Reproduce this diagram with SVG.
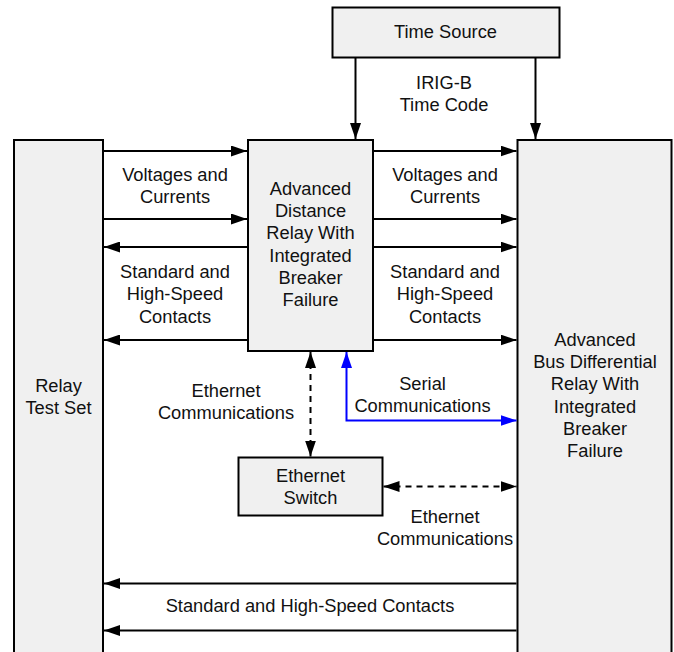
<svg xmlns="http://www.w3.org/2000/svg" width="674" height="652" viewBox="0 0 674 652">
<style>
  .box { fill: #f0f0f0; stroke: #000; stroke-width: 2; }
  .t { font-family: "Liberation Sans", Arial, sans-serif; font-size: 18.3px; fill: #111; text-anchor: middle; }
  .ln { fill: none; stroke: #000; stroke-width: 2; }
  .dash { fill: none; stroke: #000; stroke-width: 2; stroke-dasharray: 6 5; }
  .blue { fill: none; stroke: #0000ff; stroke-width: 2; }
</style>
<defs>
  <marker id="ah" markerUnits="userSpaceOnUse" markerWidth="16" markerHeight="11" refX="16" refY="5.5" orient="auto-start-reverse">
    <path d="M0,0 L16,5.5 L0,11 z" fill="#000"/>
  </marker>
  <marker id="ahb" markerUnits="userSpaceOnUse" markerWidth="16" markerHeight="11" refX="16" refY="5.5" orient="auto-start-reverse">
    <path d="M0,0 L16,5.5 L0,11 z" fill="#0000ff"/>
  </marker>
</defs>

<g id="time-source">
  <rect class="box" x="332.5" y="7.5" width="227" height="50"/>
  <text class="t" x="445.5" y="37.5">Time Source</text>
</g>

<g id="relay-test-set">
  <rect class="box" x="14" y="140" width="89" height="600"/>
  <text class="t" x="58.5" y="391.5">Relay</text>
  <text class="t" x="58.5" y="413.5">Test Set</text>
</g>

<g id="distance-relay">
  <rect class="box" x="248" y="140" width="125" height="211"/>
  <text class="t" x="310.5" y="195">Advanced</text>
  <text class="t" x="310.5" y="217.2">Distance</text>
  <text class="t" x="310.5" y="239.4">Relay With</text>
  <text class="t" x="310.5" y="261.6">Integrated</text>
  <text class="t" x="310.5" y="283.8">Breaker</text>
  <text class="t" x="310.5" y="306">Failure</text>
</g>

<g id="bus-differential-relay">
  <rect class="box" x="517.5" y="140" width="154" height="600"/>
  <text class="t" x="595" y="345.7">Advanced</text>
  <text class="t" x="595" y="368">Bus Differential</text>
  <text class="t" x="595" y="390.3">Relay With</text>
  <text class="t" x="595" y="412.6">Integrated</text>
  <text class="t" x="595" y="434.9">Breaker</text>
  <text class="t" x="595" y="457.2">Failure</text>
</g>

<g id="ethernet-switch">
  <rect class="box" x="238.5" y="457.5" width="144" height="58"/>
  <text class="t" x="310.5" y="481.7">Ethernet</text>
  <text class="t" x="310.5" y="503.5">Switch</text>
</g>

<g id="connectors">
  <line class="ln" x1="355.5" y1="58" x2="355.5" y2="139" marker-end="url(#ah)"/>
  <line class="ln" x1="535.5" y1="58" x2="535.5" y2="139" marker-end="url(#ah)"/>

  <line class="ln" x1="104" y1="151" x2="247" y2="151" marker-end="url(#ah)"/>
  <line class="ln" x1="104" y1="219" x2="247" y2="219" marker-end="url(#ah)"/>
  <line class="ln" x1="247" y1="247" x2="104" y2="247" marker-end="url(#ah)"/>
  <line class="ln" x1="247" y1="340" x2="104" y2="340" marker-end="url(#ah)"/>

  <line class="ln" x1="374" y1="151" x2="516.5" y2="151" marker-end="url(#ah)"/>
  <line class="ln" x1="374" y1="219" x2="516.5" y2="219" marker-end="url(#ah)"/>
  <line class="ln" x1="374" y1="247" x2="516.5" y2="247" marker-end="url(#ah)"/>
  <line class="ln" x1="374" y1="340" x2="516.5" y2="340" marker-end="url(#ah)"/>

  <line class="dash" x1="310.5" y1="352" x2="310.5" y2="456.5" marker-start="url(#ah)" marker-end="url(#ah)"/>
  <path class="blue" d="M346.5,352 L346.5,420.5 L516.5,420.5" marker-start="url(#ahb)" marker-end="url(#ahb)"/>
  <line class="dash" x1="383.5" y1="486.5" x2="516.5" y2="486.5" marker-start="url(#ah)" marker-end="url(#ah)"/>

  <line class="ln" x1="516.5" y1="583.5" x2="104" y2="583.5" marker-end="url(#ah)"/>
  <line class="ln" x1="516.5" y1="630.5" x2="104" y2="630.5" marker-end="url(#ah)"/>
</g>

<g id="labels">
  <text class="t" x="444" y="88.5">IRIG-B</text>
  <text class="t" x="444" y="110.5">Time Code</text>
  <text class="t" x="175" y="180.7">Voltages and</text>
  <text class="t" x="175" y="202.7">Currents</text>
  <text class="t" x="445" y="181">Voltages and</text>
  <text class="t" x="445" y="203">Currents</text>
  <text class="t" x="175" y="277.7">Standard and</text>
  <text class="t" x="175" y="300">High-Speed</text>
  <text class="t" x="175" y="322.5">Contacts</text>
  <text class="t" x="445" y="278">Standard and</text>
  <text class="t" x="445" y="300.2">High-Speed</text>
  <text class="t" x="445" y="322.5">Contacts</text>
  <text class="t" x="226" y="397">Ethernet</text>
  <text class="t" x="226" y="419">Communications</text>
  <text class="t" x="422.5" y="389.5">Serial</text>
  <text class="t" x="422.5" y="411.5">Communications</text>
  <text class="t" x="445" y="522.7">Ethernet</text>
  <text class="t" x="445" y="545">Communications</text>
  <text class="t" x="310" y="611.7">Standard and High-Speed Contacts</text>
</g>
</svg>
